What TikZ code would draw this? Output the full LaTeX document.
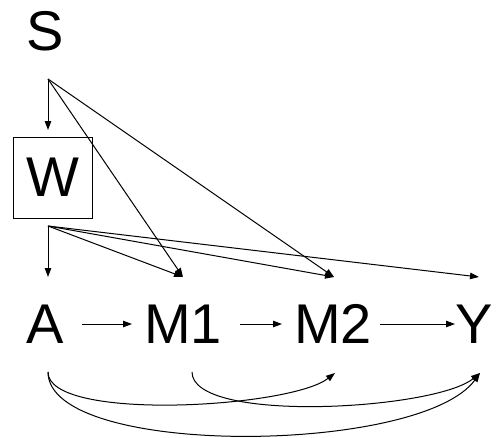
\documentclass[tikz,border=0pt]{standalone}
\usepackage{fontspec}
\setmainfont{Liberation Sans}
\usetikzlibrary{arrows.meta}
\begin{document}
\begin{tikzpicture}[x=1pt,y=-1pt,
  lbl/.style={anchor=base,inner sep=0pt,font=\fontsize{56}{60}\selectfont},
  arr/.style={line width=1pt,-{Triangle[length=9pt,width=6.5pt]}}]
\useasboundingbox (0,0) rectangle (498,437);
% nodes
\node[lbl] (S) at (45,50) {S};
\node[draw,line width=1pt,minimum width=79pt,minimum height=81pt,inner sep=0pt,
      font=\fontsize{56}{60}\selectfont] (W) at (52.5,177.5) {W};
\node[lbl] (A) at (45,343) {A};
\node[lbl] (M1) at (183,343) {M1};
\node[lbl] (M2) at (333,343) {M2};
\node[lbl] (Y) at (474,343) {Y};
% connector points
\coordinate (sout) at (48,79);
\coordinate (wout) at (48,226);
\coordinate (win) at (48,130);
\coordinate (ain) at (48,277);
\coordinate (m1in) at (183,277);
\coordinate (m2in) at (334,277);
\coordinate (yin) at (479,277);
\coordinate (ar) at (82,324);
\coordinate (m1l) at (132,324);
\coordinate (m1r) at (240,324);
\coordinate (m2l) at (282,324);
\coordinate (m2r) at (380,324);
\coordinate (yl) at (455,324);
\coordinate (ab) at (48,372);
\coordinate (m1b) at (192,372);
\coordinate (m2b) at (335,373);
\coordinate (yb) at (480,373);
% from S
\draw[arr] (sout) -- (win);
\draw[arr] (sout) -- (m1in);
\draw[arr] (sout) -- (m2in);
% from W
\draw[arr] (wout) -- (ain);
\draw[arr] (wout) -- (m1in);
\draw[arr] (wout) -- (m2in);
\draw[arr] (wout) -- (yin);
% chain
\draw[arr] (ar) -- (m1l);
\draw[arr] (m1r) -- (m2l);
\draw[arr] (m2r) -- (yl);
% curves
\draw[arr] (ab) .. controls (48,422) and (290,408) .. (m2b);
\draw[arr] (m1b) .. controls (192,424) and (435,410) .. (yb);
\draw[arr] (ab) .. controls (48,458) and (420,455) .. (yb);
\end{tikzpicture}
\end{document}
